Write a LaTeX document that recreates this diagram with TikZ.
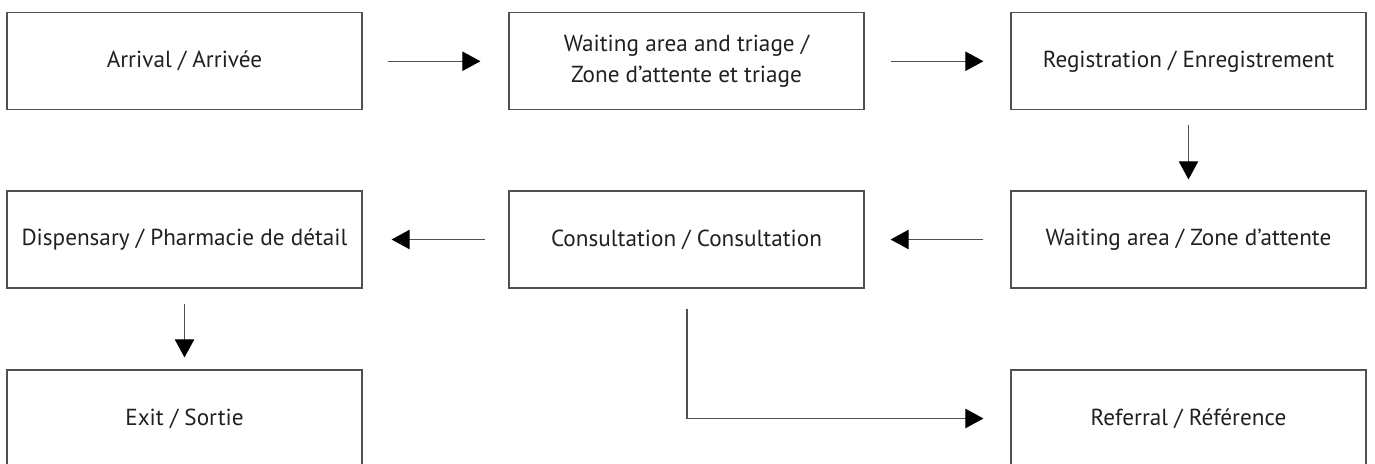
\documentclass[tikz,border=0pt]{standalone}
\usepackage{fontspec}
\setmainfont{PT Sans}
\usetikzlibrary{arrows.meta,calc}
\definecolor{ink}{RGB}{35,31,32}
\definecolor{rule}{RGB}{80,80,80}
\begin{document}
\begin{tikzpicture}[x=0.75pt,y=-0.75pt,
  stage/.style={draw=rule,line width=0.9pt,minimum width=266.25pt,
    minimum height=72.75pt,inner sep=0pt,align=center,text=ink,
    font=\fontsize{17.4}{23}\selectfont},
  flow/.style={draw=rule,line width=0.8pt,
    -{Triangle[length=13.5pt,width=14.5pt,color=black]}}]
\useasboundingbox (0,0) rectangle (1375,464);
\clip (0,0) rectangle (1375,464);

% stages of the visit
\node[stage] (arr)  at (184.5,61.25)  {Arrival / Arrivée};
\node[stage] (tri)  at (686.5,61.25)  {Waiting area and triage /\\Zone d’attente et triage};
\node[stage] (reg)  at (1188.5,61.25) {Registration / Enregistrement};
\node[stage] (disp) at (184.5,239.5)  {Dispensary / Pharmacie de détail};
\node[stage] (cons) at (686.5,239.5)  {Consultation / Consultation};
\node[stage] (wait) at (1188.5,239.5) {Waiting area / Zone d’attente};
\node[stage] (exit) at (184.5,418.5)  {Exit / Sortie};
\node[stage] (ref)  at (1188.5,418.5) {Referral / Référence};

% patient flow
\draw[flow] ($(arr.east)+(25,0)$) -- ($(tri.west)+(-28,0)$);
\draw[flow] ($(tri.east)+(26,0)$) -- ($(reg.west)+(-27,0)$);
\draw[flow] ($(reg.south)+(0,15)$) -- ($(wait.north)+(0,-11)$);
\draw[flow] ($(wait.west)+(-27,0)$) -- ($(cons.east)+(26,0)$);
\draw[flow] ($(cons.west)+(-23,0)$) -- ($(disp.east)+(29,0)$);
\draw[flow] ($(disp.south)+(0,15)$) -- ($(exit.north)+(0,-12)$);
\draw[flow] ($(cons.south)+(0.5,20)$) |- ($(ref.west)+(-27,0)$);
\end{tikzpicture}
\end{document}
